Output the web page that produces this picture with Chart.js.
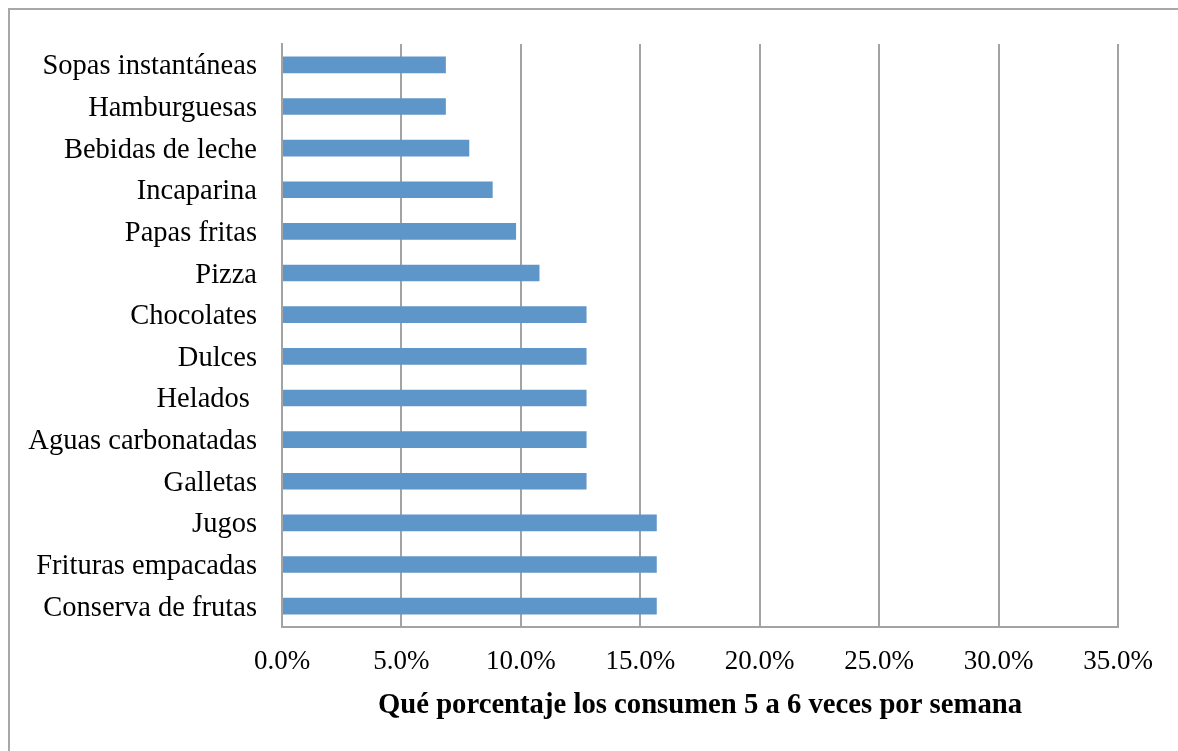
<!DOCTYPE html>
<html>
<head>
<meta charset="utf-8">
<script src="https://cdn.jsdelivr.net/npm/chart.js@4.4.0/dist/chart.umd.min.js"></script>
<style>
  html, body { margin: 0; padding: 0; background: #fff; }
  #wrap { position: relative; width: 1178px; height: 751px; overflow: hidden; }
  #frame {
    position: absolute; left: 8px; top: 8px; width: 1300px; height: 900px;
    border-left: 2px solid #a8a8a8; border-top: 2px solid #a8a8a8;
  }
  #chart { position: absolute; left: 0; top: 0; }
</style>
</head>
<body>
<div id="wrap">
  <div id="frame"></div>
  <canvas id="chart" width="1178" height="751"></canvas>
</div>
<script>
// alimentos, de arriba hacia abajo
const alimentos = [
  "Sopas instantáneas", "Hamburguesas", "Bebidas de leche", "Incaparina",
  "Papas fritas", "Pizza", "Chocolates", "Dulces", "Helados ",
  "Aguas carbonatadas", "Galletas", "Jugos", "Frituras empacadas", "Conserva de frutas"
];
// porcentaje que los consume 5 a 6 veces por semana
const porcentajes = [6.86, 6.86, 7.84, 8.82, 9.80, 10.78, 12.75, 12.75, 12.75, 12.75, 12.75, 15.69, 15.69, 15.69];
const ejeMax = 35;
const ejePaso = 5;
const tituloEje = "Qué porcentaje los consumen 5 a 6 veces por semana";

const fuente = "'Liberation Serif', 'Times New Roman', serif";
const gris = "#a3a3a3";

new Chart(document.getElementById("chart"), {
  type: "bar",
  data: {
    labels: alimentos,
    datasets: [{
      data: porcentajes,
      backgroundColor: "#5f96c9",
      borderWidth: 0,
      categoryPercentage: 1,
      barPercentage: 0.4
    }]
  },
  options: {
    indexAxis: "y",
    responsive: false,
    animation: false,
    layout: { padding: { left: 0, top: 44, right: 60, bottom: 0 } },
    plugins: {
      legend: { display: false },
      tooltip: { enabled: false }
    },
    scales: {
      x: {
        min: 0,
        max: ejeMax,
        afterFit: scale => { scale.height = 124; },
        ticks: {
          stepSize: ejePaso,
          padding: 19,
          color: "#000",
          font: { family: fuente, size: 27 },
          callback: v => v.toFixed(1) + "%"
        },
        grid: { color: gris, lineWidth: 2, drawTicks: false },
        border: { color: gris, width: 2 },
        title: {
          display: true,
          text: tituloEje,
          color: "#000",
          font: { family: fuente, size: 28.7, weight: "bold" },
          padding: { top: 0, bottom: 28 }
        }
      },
      y: {
        afterFit: scale => { scale.width = 282; },
        ticks: {
          padding: 25,
          labelOffset: 2,
          color: "#000",
          font: { family: fuente, size: 28.5 }
        },
        grid: { display: false, drawTicks: false },
        border: { color: gris, width: 2 }
      }
    }
  }
});
</script>
</body>
</html>
